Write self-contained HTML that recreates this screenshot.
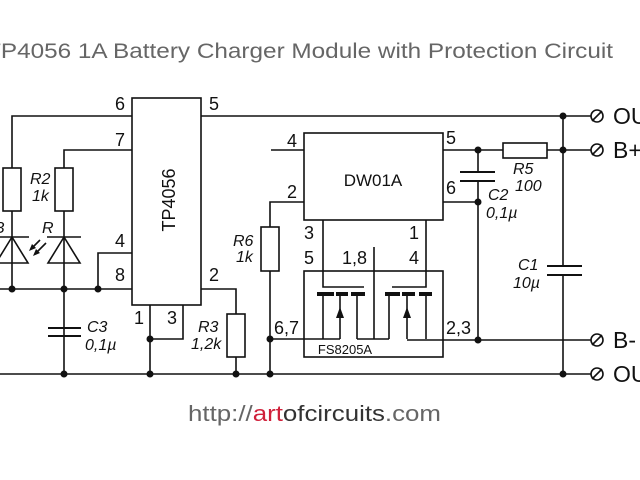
<!DOCTYPE html>
<html><head><style>body{margin:0;background:#fff}svg{display:block}</style></head><body>
<svg width="640" height="480" viewBox="0 0 640 480" xmlns="http://www.w3.org/2000/svg" font-family="Liberation Sans, sans-serif">
<rect width="640" height="480" fill="#fff"/>
<text x="-14" y="58" font-size="21" fill="#666" textLength="627" lengthAdjust="spacingAndGlyphs">TP4056 1A Battery Charger Module with Protection Circuit</text>
<g stroke="#111" stroke-width="1.6" fill="none">
<rect x="132" y="98" width="69" height="207"/>
<polyline points="12,168 12,116 132,116"/>
<line x1="201" y1="116" x2="591" y2="116"/>
<polyline points="64,168 64,150 132,150"/>
<rect x="3" y="168" width="18" height="43"/>
<rect x="55" y="168" width="18" height="43"/>
<line x1="12" y1="211" x2="12" y2="289"/>
<line x1="64" y1="211" x2="64" y2="374"/>
<line x1="-5" y1="237" x2="29" y2="237"/>
<polygon points="12,237 -4,263 28,263"/>
<line x1="47" y1="237" x2="81" y2="237"/>
<polygon points="64,237 48,263 80,263"/>
<polyline points="132,253 98,253 98,289"/>
<line x1="0" y1="289" x2="132" y2="289"/>
<line x1="0" y1="374" x2="591" y2="374"/>
<line x1="48" y1="328" x2="81" y2="328" stroke-width="2"/>
<line x1="48" y1="336" x2="81" y2="336" stroke-width="2"/>
<line x1="150" y1="305" x2="150" y2="374"/>
<polyline points="183,305 183,339 150,339"/>
<polyline points="201,289 236,289 236,314"/>
<rect x="227" y="314" width="18" height="43"/>
<line x1="236" y1="357" x2="236" y2="374"/>
<polyline points="304,202 270,202 270,227"/>
<rect x="261" y="227" width="18" height="44"/>
<line x1="270" y1="271" x2="270" y2="374"/>
<rect x="304" y="133" width="139" height="87"/>
<line x1="271" y1="150" x2="304" y2="150"/>
<line x1="443" y1="150" x2="503" y2="150"/>
<rect x="503" y="143" width="44" height="15"/>
<line x1="547" y1="150" x2="591" y2="150"/>
<line x1="443" y1="202" x2="478" y2="202"/>
<line x1="478" y1="150" x2="478" y2="172"/>
<line x1="478" y1="181" x2="478" y2="340"/>
<line x1="460" y1="172" x2="495" y2="172" stroke-width="2"/>
<line x1="460" y1="181" x2="495" y2="181" stroke-width="2"/>
<line x1="563" y1="116" x2="563" y2="266"/>
<line x1="563" y1="275" x2="563" y2="374"/>
<line x1="547" y1="266" x2="582" y2="266" stroke-width="2"/>
<line x1="547" y1="275" x2="582" y2="275" stroke-width="2"/>
<rect x="304" y="271" width="139" height="86"/>
<polyline points="323,220 323,287 364,287"/>
<polyline points="426,220 426,287 392,287"/>
<line x1="374" y1="247" x2="374" y2="339"/>
<line x1="323" y1="294" x2="323" y2="339"/>
<line x1="340" y1="294" x2="340" y2="339"/>
<line x1="357" y1="294" x2="357" y2="339"/>
<line x1="389" y1="294" x2="389" y2="339"/>
<line x1="407" y1="294" x2="407" y2="339"/>
<line x1="426" y1="294" x2="426" y2="339"/>
<line x1="270" y1="339" x2="340" y2="339"/>
<line x1="357" y1="339" x2="389" y2="339"/>
<line x1="407" y1="340" x2="591" y2="340"/>
<circle cx="597" cy="116" r="6"/><line x1="592" y1="121" x2="602" y2="111"/>
<circle cx="597" cy="150" r="6"/><line x1="592" y1="155" x2="602" y2="145"/>
<circle cx="597" cy="340" r="6"/><line x1="592" y1="345" x2="602" y2="335"/>
<circle cx="597" cy="374" r="6"/><line x1="592" y1="379" x2="602" y2="369"/>
<line x1="46" y1="243" x2="36" y2="253"/>
<line x1="40" y1="240" x2="32" y2="248"/>
</g>
<g fill="#111">
<rect x="317" y="292" width="17" height="4"/><rect x="336" y="292" width="12" height="4"/><rect x="351" y="292" width="14" height="4"/>
<rect x="385" y="292" width="15" height="4"/><rect x="402" y="292" width="13" height="4"/><rect x="419" y="292" width="13" height="4"/>
<polygon points="340,307 336,318 344,318"/><polygon points="407,307 403,318 411,318"/>
<polygon points="33,256 36,249 40,253"/><polygon points="29,251 32,244 36,248"/>
<circle cx="12" cy="289" r="3.5"/><circle cx="64" cy="289" r="3.5"/><circle cx="98" cy="289" r="3.5"/>
<circle cx="64" cy="374" r="3.5"/><circle cx="150" cy="339" r="3.5"/><circle cx="150" cy="374" r="3.5"/>
<circle cx="236" cy="374" r="3.5"/><circle cx="270" cy="339" r="3.5"/><circle cx="270" cy="374" r="3.5"/>
<circle cx="478" cy="150" r="3.5"/><circle cx="478" cy="202" r="3.5"/><circle cx="478" cy="340" r="3.5"/>
<circle cx="563" cy="116" r="3.5"/><circle cx="563" cy="150" r="3.5"/><circle cx="563" cy="374" r="3.5"/>
</g>
<g fill="#111" font-size="18">
<text x="115" y="110">6</text><text x="209" y="110">5</text><text x="115" y="146">7</text>
<text x="115" y="247">4</text><text x="115" y="281">8</text><text x="134" y="324">1</text><text x="167" y="324">3</text><text x="209" y="281">2</text>
<text transform="translate(175,200) rotate(-90)" text-anchor="middle" font-size="18">TP4056</text>
<text x="373" y="186" text-anchor="middle" font-size="17">DW01A</text>
<text x="287" y="147">4</text><text x="287" y="198">2</text><text x="304" y="239">3</text><text x="409" y="239">1</text>
<text x="304" y="264">5</text><text x="342" y="264">1,8</text><text x="409" y="264">4</text>
<text x="446" y="144">5</text><text x="446" y="194">6</text>
<text x="274" y="334">6,7</text><text x="446" y="334">2,3</text>
<text x="345" y="354" text-anchor="middle" font-size="13">FS8205A</text>
<text x="613" y="124" font-size="23">OUT</text><text x="613" y="158" font-size="23">B+</text>
<text x="613" y="348" font-size="23">B-</text><text x="613" y="382" font-size="23">OUT</text>
</g>
<g fill="#111" font-size="16" font-style="italic">
<text x="30" y="184">R2</text><text x="32" y="201">1k</text>
<text x="42" y="233">R</text><text x="-6" y="233">B</text>
<text x="87" y="332">C3</text><text x="85" y="350">0,1µ</text>
<text x="198" y="332">R3</text><text x="191" y="349">1,2k</text>
<text x="233" y="246">R6</text><text x="236" y="262">1k</text>
<text x="488" y="200">C2</text><text x="486" y="218">0,1µ</text>
<text x="513" y="174">R5</text><text x="515" y="191">100</text>
<text x="518" y="270">C1</text><text x="513" y="288">10µ</text>
</g>
<text x="188" y="421" font-size="22" fill="#666" textLength="253" lengthAdjust="spacingAndGlyphs">http://<tspan fill="#d0203a">art</tspan><tspan fill="#333">ofcircuits</tspan>.com</text>
</svg>
</body></html>
